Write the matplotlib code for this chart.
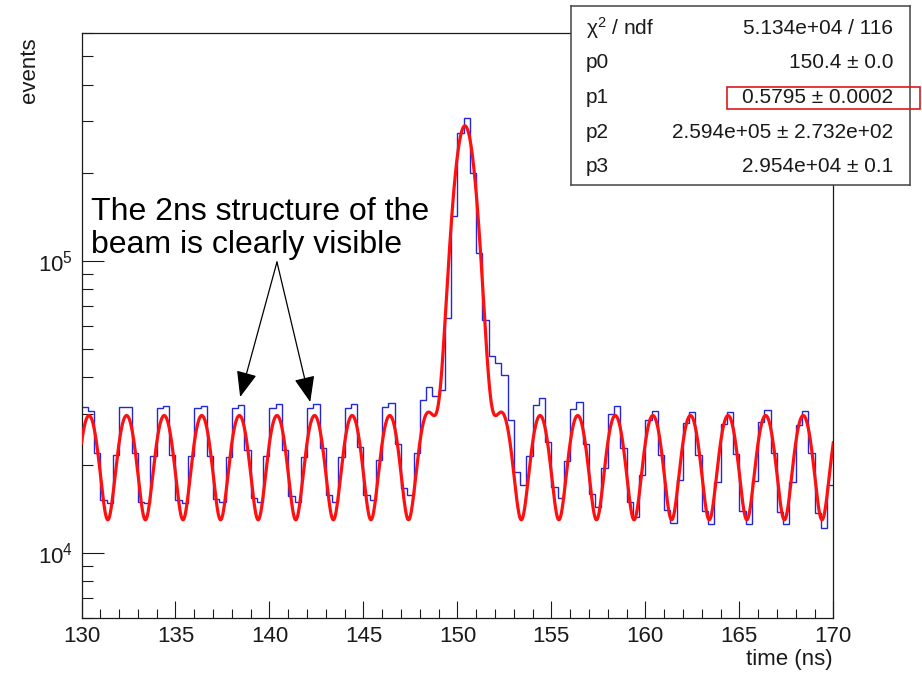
import numpy as np
import matplotlib
matplotlib.use("Agg")
import matplotlib.pyplot as plt
from matplotlib.ticker import FixedLocator, MultipleLocator, FuncFormatter, NullFormatter
from matplotlib.patches import Rectangle

plt.rcParams['font.family'] = ['Liberation Sans', 'DejaVu Sans']
plt.rcParams['mathtext.fontset'] = 'custom'
plt.rcParams['mathtext.rm'] = 'Liberation Sans'
plt.rcParams['mathtext.it'] = 'Liberation Sans:italic'

# time histogram, 120 bins of 1/3 ns between 130 and 170 ns
t_lo, t_hi, n_bins = 130.0, 170.0, 120
counts = [
    31700, 30640, 21950, 15190, 14800, 21660,
    31700, 31700, 21950, 14990, 14800, 21540,
    31300, 31870, 21660, 15190, 14800, 21540,
    31300, 31950, 21540, 15310, 14990, 21370,
    31450, 32120, 22530, 15390, 14990, 21540,
    31300, 32300, 22530, 15710, 14990, 21370,
    31300, 32300, 22840, 15800, 14990, 21370,
    31300, 32300, 23120, 15800, 15190, 20820,
    31700, 32560, 23570, 16660, 15800, 21950,
    33420, 37110, 34500, 36160, 63640, 141800,
    273700, 308100, 199700, 106300, 62800, 47010,
    44630, 40700, 28540, 18980, 17100, 21490,
    32120, 34020, 24060, 16870, 15470, 20660,
    31130, 32980, 23570, 15890, 14410, 19500,
    29850, 31950, 22940, 14990, 13310, 18500,
    28540, 30640, 21660, 14040, 12640, 17780,
    27800, 30470, 21660, 13930, 12540, 17540,
    27590, 30330, 21780, 13930, 12540, 17640,
    28160, 30880, 21950, 13850, 12540, 17540,
    27440, 30640, 21950, 13740, 12150, 17100,
]

# fit result: gaussian bunch on top of the 2 ns beam structure
p0, p1, p2, p3 = 150.4, 0.5795, 2.594e5, 2.954e4
stat_names = ['χ$^{2}$ / ndf', 'p0', 'p1', 'p2', 'p3']
stat_values = ['5.134e+04 / 116', '150.4 ± 0.0', '0.5795 ± 0.0002',
               '2.594e+05 ± 2.732e+02', '2.954e+04 ± 0.1']

note = 'The 2ns structure of the\nbeam is clearly visible'


def fit_func(x):
    beam = p3 * (0.72 + 0.28 * np.cos(np.pi * (x - p0)))
    return p2 * np.exp(-0.5 * ((x - p0) / p1) ** 2) + beam


W, H = 922, 673
fig = plt.figure(figsize=(W / 100, H / 100), dpi=100)
ax = fig.add_axes([81.5 / W, 1 - 618 / H, (833.3 - 81.5) / W, (618 - 33) / H])

edges = np.linspace(t_lo, t_hi, n_bins + 1)
ax.stairs(counts, edges, baseline=None, color='#2626d9', lw=1.0, zorder=2)

xf = np.linspace(t_lo, t_hi, 2000)
ax.plot(xf, fit_func(xf), color='#ff1010', lw=2.3, zorder=3)

ax.set_xlim(t_lo, t_hi)
ax.set_yscale('log')
ax.set_ylim(6000, 6e5)

ax.xaxis.set_major_locator(MultipleLocator(5))
ax.xaxis.set_minor_locator(MultipleLocator(1))
ax.yaxis.set_major_locator(FixedLocator([1e4, 1e5]))
ax.yaxis.set_major_formatter(FuncFormatter(lambda v, _: r'$10^{%d}$' % round(np.log10(v))))
minor_y = [m * 10.0 ** e for e in (3, 4, 5) for m in range(2, 10)]
ax.yaxis.set_minor_locator(FixedLocator(minor_y))
ax.yaxis.set_minor_formatter(NullFormatter())

ax.tick_params(axis='both', which='both', direction='in', top=False, right=False,
               width=0.8, colors='#1a1a1a', labelsize=16)
ax.tick_params(axis='x', which='major', length=12.6, pad=6)
ax.tick_params(axis='x', which='minor', length=6.3)
ax.tick_params(axis='y', which='major', length=16, pad=6)
ax.tick_params(axis='y', which='minor', length=8)
for sp in ax.spines.values():
    sp.set_linewidth(0.9)
    sp.set_color('#1a1a1a')

fig.text(833 / W, 1 - 660 / H, 'time (ns)', ha='right', va='center', fontsize=16, color='#1a1a1a')
fig.text(30 / W, 1 - 37 / H, 'events', rotation=90, ha='center', va='top', fontsize=16, color='#1a1a1a')

# annotation with two arrows pointing at beam bunches
fig.text(91 / W, 1 - 197 / H, note, fontsize=23, linespacing=1.12,
         ha='left', va='top', color='black', zorder=5)
for tip in [(138.44, 34170), (142.17, 32850)]:
    ax.annotate('', xy=tip, xytext=(140.40, 98900),
                arrowprops=dict(arrowstyle='-|>,head_length=1.0,head_width=0.4',
                                mutation_scale=16, color='black', lw=0.9,
                                shrinkA=0, shrinkB=0), zorder=5)

# fit statistics box
sx0, sx1, sy0, sy1 = 571, 910, 6, 185
sbox = fig.add_axes([sx0 / W, 1 - sy1 / H, (sx1 - sx0) / W, (sy1 - sy0) / H])
sbox.set_xticks([])
sbox.set_yticks([])
sbox.set_facecolor('white')
for sp in sbox.spines.values():
    sp.set_linewidth(1.1)
    sp.set_color('#444444')
row_y = [28, 62.5, 97.5, 132.5, 167]
for name, val, ry in zip(stat_names, stat_values, row_y):
    fig.text(586 / W, 1 - ry / H, name, ha='left', va='center', fontsize=15, color='#1a1a1a')
    fig.text(893 / W, 1 - ry / H, val, ha='right', va='center', fontsize=15, color='#1a1a1a')

# highlight around the p1 value
fig.add_artist(Rectangle((727 / W, 1 - 109 / H), (920 - 727) / W, 22 / H,
                         transform=fig.transFigure, fill=False,
                         edgecolor='#e01818', lw=1.2, zorder=10))

fig.savefig('out.png', dpi=100)
